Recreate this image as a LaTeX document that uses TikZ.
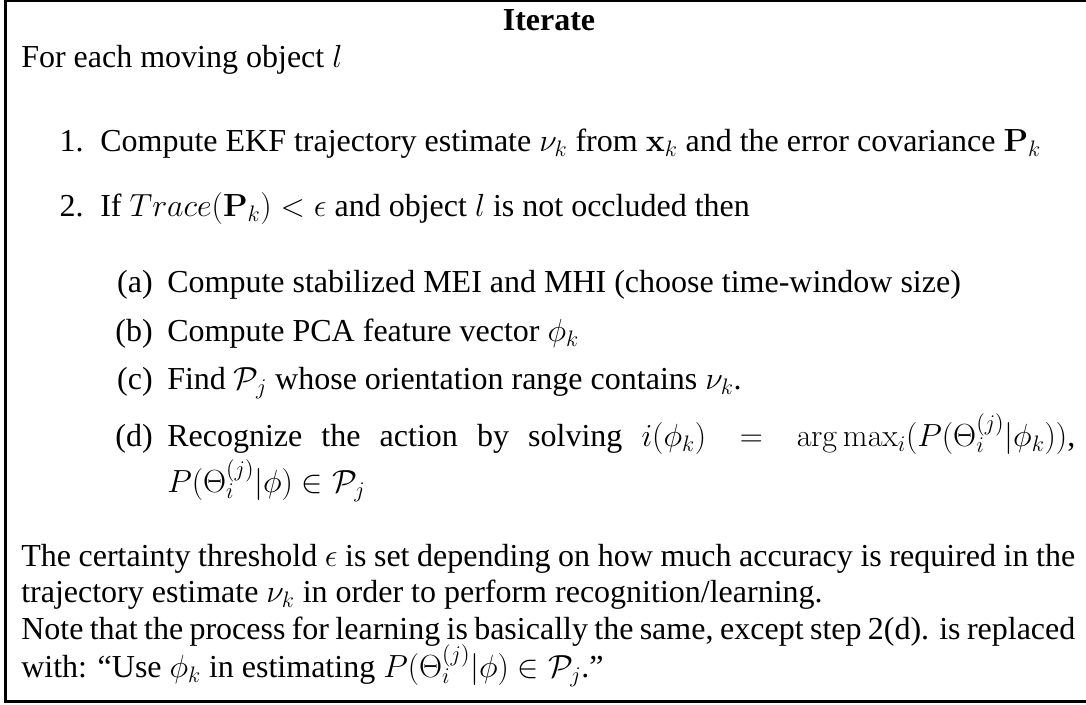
\RequirePackage{fix-cm}
\documentclass[tikz,border=0pt]{standalone}
\usepackage[no-math]{fontspec}
\setmainfont{Liberation Serif}
\begin{document}
\begin{tikzpicture}[x=0.75pt,y=-0.75pt,
  txt/.style={anchor=base west,inner sep=0pt,font=\fontsize{24}{27.75}\selectfont},
  lab/.style={anchor=base east,inner sep=0pt,font=\fontsize{24}{27.75}\selectfont},
  ttl/.style={anchor=base,inner sep=0pt,font=\fontsize{24}{27.75}\selectfont\bfseries},
  frame/.style={line width=1.9pt}]
\useasboundingbox (0,0) rectangle (1086,705);
\draw[frame] (1086,1) -- (5.5,1) -- (5.5,701.5) -- (1086,701.5);
\node[ttl] (title) at (549,31) {Iterate};
\node[txt] (intro) at (21,68) {For each moving object $l$};
\node[lab] (l1) at (84,152) {1.};
\node[txt] (t1) at (100,152) {Compute EKF trajectory estimate $\nu_k$ from $\mathbf{x}_k$ and the error covariance $\mathbf{P}_k$};
\node[lab] (l2) at (84,217) {2.};
\node[txt] (t2) at (100,217) {If $Trace(\mathbf{P}_k) < \epsilon$ and object $l$ is not occluded then};
\node[lab] (la) at (153,293) {(a)};
\node[txt] (ta) at (167,293) {Compute stabilized MEI and MHI (choose time-window size)};
\node[lab] (lb) at (153,342) {(b)};
\node[txt] (tb) at (167,342) {Compute PCA feature vector $\phi_k$};
\node[lab] (lc) at (153,390) {(c)};
\node[txt] (tc) at (167,390) {Find $\mathcal{P}_j$ whose orientation range contains $\nu_k$.};
\node[lab] (ld) at (153,447) {(d)};
\node[txt] (td) at (167,447) {\makebox[681pt][s]{Recognize the action by solving $i(\phi_k) = \arg\max_i(P(\Theta_i^{(j)}|\phi_k))$,}};
\node[txt] (td2) at (167,493) {$P(\Theta_i^{(j)}|\phi) \in \mathcal{P}_j$};
\node[txt] (n1) at (21,567) {\makebox[790.5pt][s]{The certainty threshold $\epsilon$ is set depending on how much accuracy is required in the}};
\node[txt] (n2) at (21,603) {trajectory estimate $\nu_k$ in order to perform recognition/learning.};
\node[txt] (n3) at (21,640) {\makebox[790.5pt][s]{Note that the process for learning is basically the same, except step 2(d). is replaced}};
\node[txt] (n4) at (21,678) {with: ``Use $\phi_k$ in estimating $P(\Theta_i^{(j)}|\phi) \in \mathcal{P}_j$.''};
\end{tikzpicture}
\end{document}
